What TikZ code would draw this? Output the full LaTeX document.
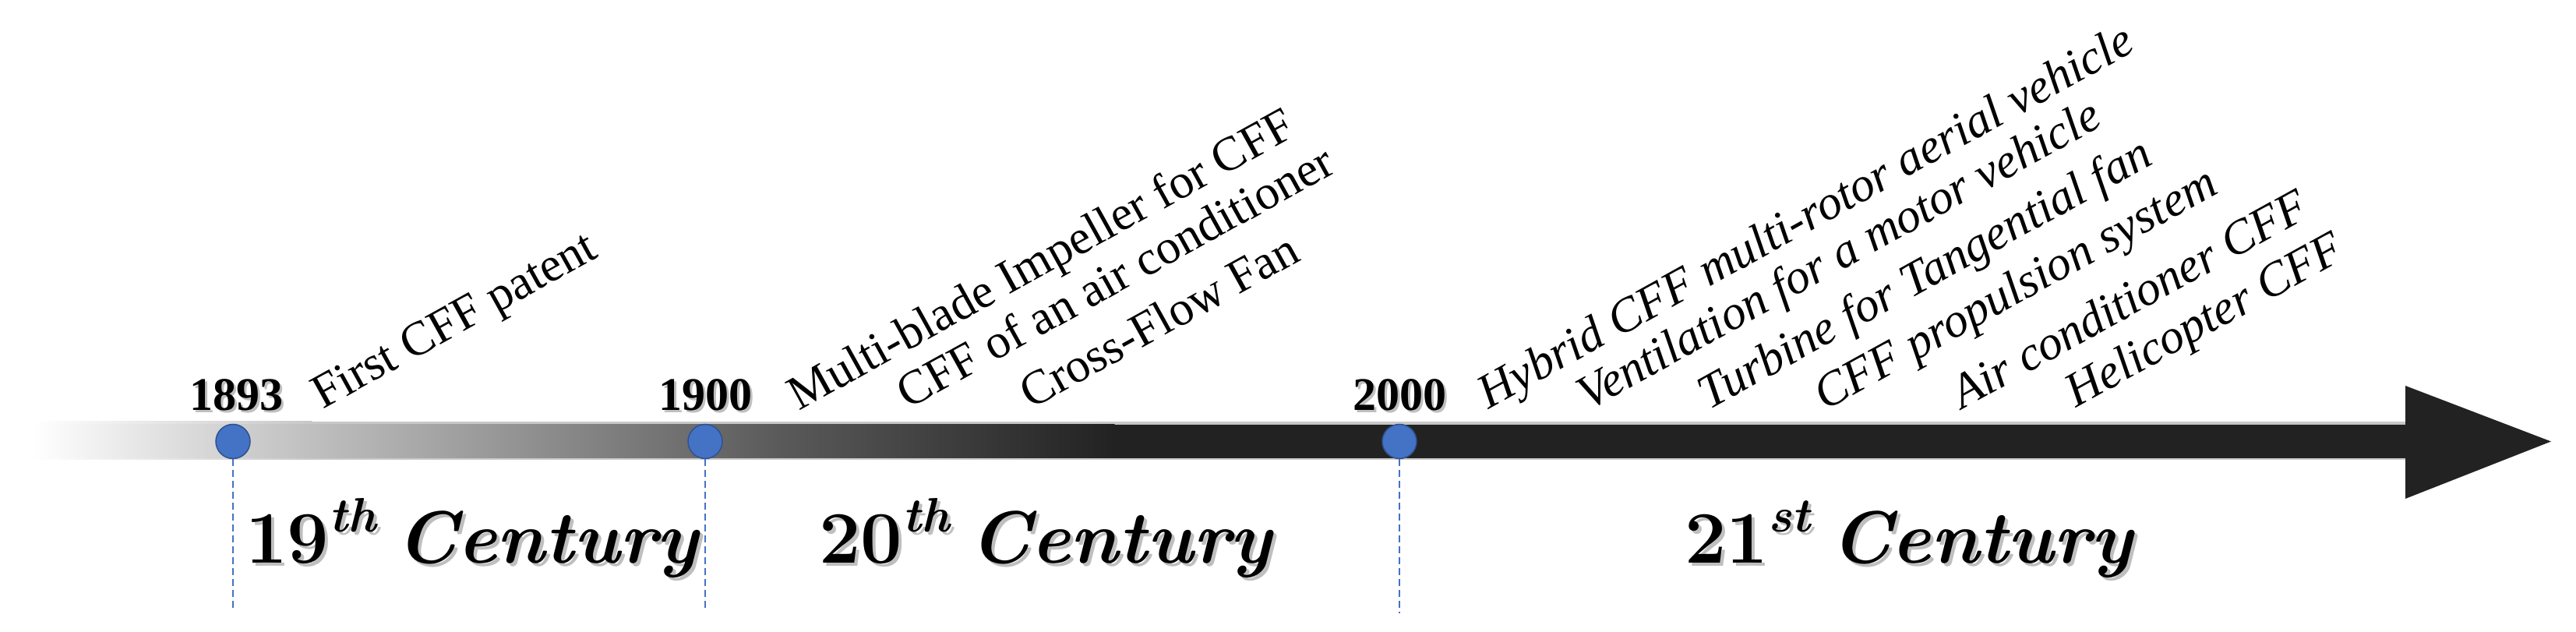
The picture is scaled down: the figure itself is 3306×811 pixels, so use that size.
\documentclass[tikz,border=0pt]{standalone}
\usepackage{fontspec}
\newfontfamily\tnr{Liberation Serif}
\definecolor{dotblue}{HTML}{4472C4}
\definecolor{dotedge}{HTML}{2F528F}
\definecolor{bardark}{HTML}{222222}
\definecolor{gA}{HTML}{D0D0D0}
\definecolor{gB}{HTML}{5A5A5A}
\definecolor{edge}{HTML}{C8C8C8}
\newcommand\centlabel[2]{{\upshape #1}\raisebox{40pt}{\fontsize{62}{62}\selectfont #2}\hspace{26pt}Century}
\tikzset{
  yearlbl/.style={font=\tnr\bfseries\fontsize{60}{60}\selectfont, anchor=base, inner sep=0pt},
  evt/.style={font=\tnr\fontsize{62}{62}\selectfont, anchor=base west, inner sep=0pt, rotate=29},
  evti/.style={evt, font=\tnr\itshape\fontsize{62}{62}\selectfont},
  cent/.style={font=\bfseries\itshape\fontsize{95}{95}\selectfont, anchor=base west, inner sep=0pt},
  shadowtxt/.style={text=black!25},
  tdot/.style={circle, fill=dotblue, draw=dotedge, line width=1.5pt, minimum size=44pt, inner sep=0pt},
  guide/.style={dotblue, line width=2pt, dash pattern=on 9pt off 5pt},
}
\begin{document}
\begin{tikzpicture}[x=1pt,y=1pt]
\useasboundingbox (0,0) rectangle (3306,811);
% bar edge (soft shadow), fading in from the left
\shade[left color=white, right color=edge] (42,221) rectangle (400.5,270);
\fill[edge] (400,221) rectangle (3087,270);
% bar gradient
\shade[left color=white, right color=gA] (42,223) rectangle (300.5,266);
\shade[left color=gA, right color=gB] (300,223) rectangle (1000.5,266);
\shade[left color=gB, right color=bardark] (1000,223) rectangle (1430.5,266);
\fill[bardark] (1430,223) rectangle (3088,266);
\coordinate (hb) at (3087,316);
\coordinate (hc) at (3087,171);
\coordinate (tip) at (3274,244.5);
\fill[bardark] (hb) -- (tip) -- (hc) -- cycle;

% dots
\node[tdot] (d1893) at (299,244.5) {};
\node[tdot] (d1900) at (905,244.5) {};
\node[tdot] (d2000) at (1796,244.5) {};
\coordinate (e1893) at (299,29);
\coordinate (e1900) at (905,26);
\coordinate (e2000) at (1796,24);
\draw[guide] (d1893.south) -- (e1893);
\draw[guide] (d1900.south) -- (e1900);
\draw[guide] (d2000.south) -- (e2000);

% years
\node[yearlbl, shadowtxt] (s1893) at (306,281) {1893};
\node[yearlbl, shadowtxt] (s1900) at (908,281) {1900};
\node[yearlbl, shadowtxt] (s2000) at (1799,281) {2000};
\node[yearlbl] (y1893) at (303,284) {1893};
\node[yearlbl] (y1900) at (905,284) {1900};
\node[yearlbl] (y2000) at (1796,284) {2000};

% centuries
\node[cent, shadowtxt] (sc19) at (319,84) {\centlabel{19}{th}};
\node[cent, shadowtxt] (sc20) at (1055,84) {\centlabel{20}{th}};
\node[cent, shadowtxt] (sc21) at (2166,84) {\centlabel{21}{st}};
\node[cent] (c19) at (315,88) {\centlabel{19}{th}};
\node[cent] (c20) at (1051,88) {\centlabel{20}{th}};
\node[cent] (c21) at (2162,88) {\centlabel{21}{st}};

% events
\node[evt] (ev1) at (414,285) {First CFF patent};
\node[evt] (ev2) at (1025,283) {Multi-blade Impeller for CFF};
\node[evt] (ev3) at (1165,285) {CFF of an air conditioner};
\node[evt] (ev4) at (1323,285) {Cross-Flow Fan};
\node[evti] (ev5) at (1910,285) {Hybrid CFF multi-rotor aerial vehicle};
\node[evti] (ev6) at (2038,283) {Ventilation for a motor vehicle};
\node[evti] (ev7) at (2193,284) {Turbine for Tangential fan};
\node[evti] (ev8) at (2342,283) {CFF propulsion system};
\node[evti] (ev9) at (2518,285) {Air conditioner CFF};
\node[evti] (ev10) at (2664,287) {Helicopter CFF};
\end{tikzpicture}
\end{document}
